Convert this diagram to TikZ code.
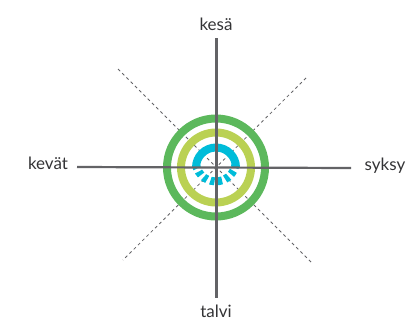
\documentclass[tikz,border=0pt]{standalone}
\usepackage{fontspec}
\setmainfont{Lato}
\definecolor{axisgray}{HTML}{636366}
\definecolor{txtgray}{HTML}{333335}
\definecolor{ringgreen}{HTML}{5CB85C}
\definecolor{ringlime}{HTML}{BAD153}
\definecolor{ringblue}{HTML}{00BCD9}
\tikzset{
  axisline/.style={draw=axisgray, line width=3pt},
  diagline/.style={draw=axisgray, line width=0.8pt, dash pattern=on 3pt off 3pt},
  lbl/.style={text=txtgray, font=\fontsize{17}{19}\selectfont, inner sep=1pt},
}
\begin{document}
\begin{tikzpicture}[x=1pt,y=-1pt]
\useasboundingbox (0,0) rectangle (411,325);
\coordinate (c) at (216,167.5);
% diagonal dashed lines
\coordinate (d1) at (118,69);
\coordinate (d2) at (312,263);
\coordinate (d3) at (306,78);
\coordinate (d4) at (123,260);
\draw[diagline] (d1) -- (d2);
\draw[diagline] (d3) -- (d4);
% rings
\draw[ringgreen, line width=8pt] (c) circle[radius=49];
\draw[ringlime, line width=8pt] (c) circle[radius=35];
\draw[ringblue, line width=8pt] ([xshift=20pt]c) arc[start angle=0, end angle=-180, radius=20];
\draw[ringblue, line width=8pt, dash pattern=on 4.2pt off 3.4pt] ([xshift=-20pt,yshift=3pt]c) arc[start angle=-189, end angle=-360+8, radius=20];
% axes
\coordinate (vt) at (216,38);
\coordinate (vb) at (216,298);
\coordinate (hl) at (77,167);
\coordinate (hr) at (351,168);
\draw[axisline] (vt) -- (vb);
\draw[axisline, line width=2.2pt] (hl) -- (hr);
% labels
\node[lbl] (kesa) at (216,24) {kesä};
\node[lbl] (talvi) at (216,311) {talvi};
\node[lbl] (kevat) at (48,163) {kevät};
\node[lbl] (syksy) at (385,166) {syksy};
\end{tikzpicture}
\end{document}
